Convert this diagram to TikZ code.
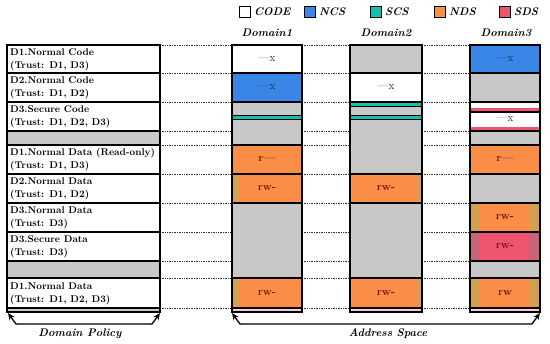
\documentclass[tikz,border=0pt]{standalone}
\usepackage{tikz}
\usetikzlibrary{arrows.meta}
\definecolor{ncs}{RGB}{58,134,230}
\definecolor{scs}{RGB}{22,190,172}
\definecolor{nds}{RGB}{250,142,70}
\definecolor{sds}{RGB}{238,84,112}
\definecolor{blank}{RGB}{200,200,200}
\definecolor{tint}{RGB}{210,160,80}
\definecolor{mauve}{RGB}{200,100,120}
\definecolor{glow}{RGB}{250,200,220}
\definecolor{permc}{RGB}{110,20,15}

\begin{document}
\begin{tikzpicture}[x=1pt, y=-1pt,
  edge/.style = {line width=1.4pt},
  dots/.style = {densely dotted, line width=0.7pt, black!80},
  key/.style = {draw, line width=0.9pt, minimum size=11pt, inner sep=0pt, anchor=west},
  keytext/.style = {font=\fontsize{11}{12}\bfseries\itshape\selectfont, anchor=west, inner sep=1pt},
  policy/.style = {font=\fontsize{9.8}{13}\bfseries\selectfont, align=left, anchor=west, inner sep=0pt},
  perm/.style = {font=\fontsize{11}{12}\bfseries\selectfont, text=permc},
  exe/.style = {font=\fontsize{11.5}{12}\selectfont, text=black!85},
  bracket/.style = {{Stealth[length=7pt,width=6pt]}-{Stealth[length=7pt,width=6pt]}, line width=1.3pt}]
\useasboundingbox (0,0) rectangle (550,344);

% legend
\foreach \c/\t/\x in {white/CODE/239, ncs/NCS/304, scs/SCS/370, nds/NDS/434, sds/SDS/499} {
  \node[key, fill=\c] (key\t) at (\x,12) {};
  \node[keytext] (lbl\t) at ([xshift=2pt]key\t.east) {\t};
}
\node[keytext, anchor=center] (dom1) at (267,33) {Domain1};
\node[keytext, anchor=center] (dom2) at (386,33) {Domain2};
\node[keytext, anchor=center] (dom3) at (506,33) {Domain3};

% dotted guides
\foreach \y in {45,73,102,131,145,174,203,232,261,278,308} {
  \draw[dots] (160,\y) -- (232,\y);
  \draw[dots] (302,\y) -- (350,\y);
  \draw[dots] (422,\y) -- (470,\y);
}

% domain policy table
\fill[blank] (7,131) rectangle (160,145);
\fill[blank] (7,261) rectangle (160,278);
\fill[blank] (7,308) rectangle (160,312);
\foreach \y in {73,102,131,145,174,203,232,261,278,308}
  \draw[edge] (7,\y) -- (160,\y);
\draw[edge] (7,45) rectangle (160,312);

\node[policy] (p1) at (10,59.5) {D1.Normal Code\\(Trust: D1, D3)};
\node[policy] (p2) at (10,88) {D2.Normal Code\\(Trust: D1, D2)};
\node[policy] (p3) at (10,117) {D3.Secure Code\\(Trust: D1, D2, D3)};
\node[policy] (p4) at (10,160) {D1.Normal Data (Read-only)\\(Trust: D1, D3)};
\node[policy] (p5) at (10,189) {D2.Normal Data\\(Trust: D1, D2)};
\node[policy] (p6) at (10,218) {D3.Normal Data\\(Trust: D3)};
\node[policy] (p7) at (10,247) {D3.Secure Data\\(Trust: D3)};
\node[policy] (p8) at (10,293.5) {D1.Normal Data\\(Trust: D1, D2, D3)};

% Domain1
\fill[ncs] (232,73) rectangle (302,102);
\fill[blank] (232,102) rectangle (302,145);
\fill[nds] (232,145) rectangle (302,203);
\fill[tint] (232,174) rectangle (240,203);
\fill[blank] (232,203) rectangle (302,278);
\fill[nds] (232,278) rectangle (302,308);
\fill[tint] (232,278) rectangle (240,308);
\fill[glow] (232,308) rectangle (302,312);
\draw[edge, fill=scs] (232,115.5) rectangle (302,119.5);
\foreach \y in {73,102,145,174,203,278,308}
  \draw[edge] (232,\y) -- (302,\y);
\draw[edge] (232,45) rectangle (302,312);

% Domain2
\fill[blank] (350,45) rectangle (422,73);
\fill[blank] (350,102) rectangle (422,174);
\fill[nds] (350,174) rectangle (422,203);
\fill[tint] (418,174) rectangle (422,203);
\fill[blank] (350,203) rectangle (422,278);
\fill[nds] (350,278) rectangle (422,308);
\fill[tint] (418,278) rectangle (422,308);
\fill[glow] (350,308) rectangle (422,312);
\draw[edge, fill=scs] (350,102) rectangle (422,106.5);
\draw[edge, fill=scs] (350,115.5) rectangle (422,119.5);
\foreach \y in {73,102,174,203,278,308}
  \draw[edge] (350,\y) -- (422,\y);
\draw[edge] (350,45) rectangle (422,312);

% Domain3
\fill[ncs] (470,45) rectangle (540,73);
\fill[blank] (470,73) rectangle (540,102);
\fill[sds] (470,108.5) rectangle (540,112);
\fill[sds] (470,127.5) rectangle (540,131);
\fill[blank] (470,131) rectangle (540,145);
\fill[nds] (470,145) rectangle (540,174);
\fill[blank] (470,174) rectangle (540,203);
\fill[nds] (470,203) rectangle (540,232);
\fill[tint] (470,203) rectangle (480,232);
\fill[tint] (530,203) rectangle (540,232);
\fill[sds] (470,232) rectangle (540,261);
\fill[mauve] (470,232) rectangle (480,261);
\fill[mauve] (530,232) rectangle (540,261);
\fill[blank] (470,261) rectangle (540,278);
\fill[nds] (470,278) rectangle (540,308);
\fill[tint] (470,278) rectangle (480,308);
\fill[tint] (530,278) rectangle (540,308);
\fill[glow] (470,308) rectangle (540,312);
\foreach \y in {73,102,112,131,145,174,203,232,261,278,308}
  \draw[edge] (470,\y) -- (540,\y);
\draw[edge] (470,45) rectangle (540,312);

% permissions
\node[exe] (c11) at (267,59) {---x};
\node[exe] (c12) at (267,87.5) {---x};
\node[perm] (c14) at (267,159.5) {r---};
\node[perm] (c15) at (267,188.5) {rw-};
\node[perm] (c18) at (267,293) {rw-};
\node[exe] (c22) at (386,87.5) {---x};
\node[perm] (c25) at (386,188.5) {rw-};
\node[perm] (c28) at (386,293) {rw-};
\node[exe] (c31) at (505,59) {---x};
\node[exe] (c33) at (505,119.5) {---x};
\node[perm] (c34) at (505,159.5) {r---};
\node[perm] (c36) at (505,217.5) {rw-};
\node[perm] (c37) at (505,246.5) {rw-};
\node[perm] (c38) at (505,293) {rw};

% brackets
\coordinate (dpa) at (8,313);
\coordinate (dpb) at (160,313);
\coordinate (asa) at (232,313);
\coordinate (asb) at (540,313);
\draw[bracket] (dpa) -- ++(8,11) -- ([xshift=-8pt, yshift=-11pt]dpb) -- (dpb);
\draw[bracket] (asa) -- ++(8,11) -- ([xshift=-8pt, yshift=-11pt]asb) -- (asb);
\node[keytext, anchor=center] (dpol) at (80,334) {Domain Policy};
\node[keytext, anchor=center] (aspc) at (388,334) {Address Space};
\end{tikzpicture}
\end{document}
